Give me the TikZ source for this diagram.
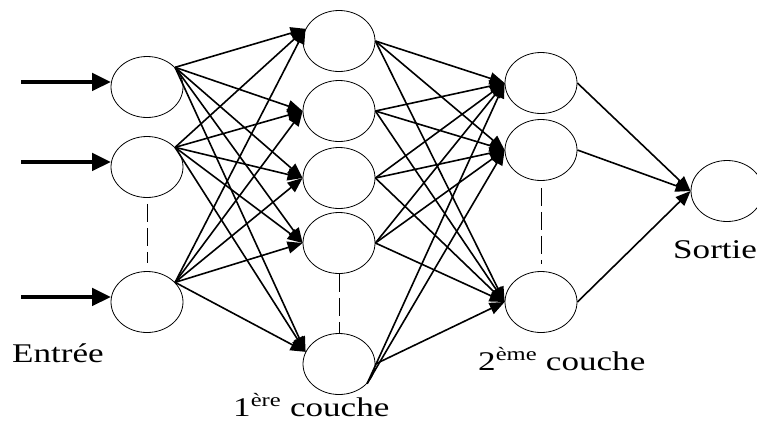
\documentclass[tikz,border=0pt]{standalone}
\usepackage{fontspec}
\setmainfont{Liberation Serif}[FakeStretch=1.3]
\usepackage{tikz}
\usetikzlibrary{arrows.meta,shapes.geometric}

\begin{document}
\begin{tikzpicture}[x=1pt, y=-1pt,
    neurone/.style={draw, ellipse, minimum width=72pt, minimum height=61pt, inner sep=0pt, line width=0.8pt},
    lien/.style={-{Triangle[length=15pt,width=12pt]}, line width=1.6pt},
    entree/.style={-{Triangle[length=19pt,width=17pt]}, line width=4.5pt},
    pointille/.style={dash pattern=on 18pt off 6pt, line width=1pt},
    titre/.style={anchor=base west, inner sep=0pt, font=\fontsize{27}{32}\selectfont}]

        \useasboundingbox (0,0) rectangle (757,421);

        % Neurones
        \foreach \n/\y in {1/87,2/167,3/302}
            \node[neurone] (e\n) at (147,\y) {};
        \foreach \n/\y in {1/41,2/111,3/178,4/243,5/364}
            \node[neurone] (h\n) at (339,\y) {};
        \foreach \n/\y in {1/83,2/150,3/302}
            \node[neurone] (c\n) at (541,\y) {};
        \node[neurone] (s) at (727,191) {};

        % Entrees
        \foreach \n in {1,2,3}{
            \coordinate (x\n) at ([xshift=-90pt]e\n.172);
            \draw[entree] (x\n) -- (e\n.172);
        }

        % Liaisons
        \foreach \i in {1,2,3}
            \foreach \j/\a in {1/160,2/180,3/180,4/180,5/160}
                \draw[lien] (e\i.35) -- (h\j.\a);

        \foreach \i in {1,...,4}
            \foreach \j in {1,2,3}
                \draw[lien] (h\i.east) -- (c\j.west);
        \draw[lien] (h5.-35) -- (c1.west);
        \draw[lien] (h5.-35) -- (c2.west);
        \draw[lien] (h5.east) -- (c3.west);

        \foreach \j in {1,2,3}
            \draw[lien] (c\j.east) -- (s.west);

        % Pointilles
        \draw[pointille, shorten <=6pt, shorten >=8pt] (e2.south) -- (e3.north);
        \draw[pointille] (h4.south) -- (h5.north);
        \draw[pointille, shorten <=7pt, shorten >=7pt] (c2.south) -- (c3.north);

        % Legendes
        \node[titre] (tE) at (12,362) {Entrée};
        \node[titre] (tH) at (233,416) {1\textsuperscript{ère} couche};
        \node[titre] (tC) at (478,370) {2\textsuperscript{ème} couche};
        \node[titre] (tS) at (673,258) {Sortie};

    \end{tikzpicture}
\end{document}
